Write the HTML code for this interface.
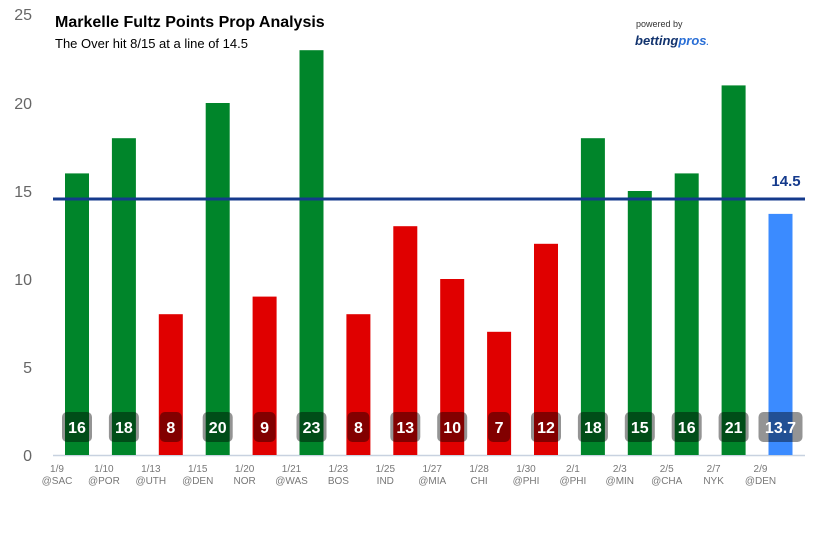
<!DOCTYPE html><html><head><style>body{margin:0;background:#fff}svg{display:block}</style></head><body>
<svg width="818" height="545" xmlns="http://www.w3.org/2000/svg" font-family="Liberation Sans, sans-serif">
<g fill="#666" font-size="16" text-anchor="end">
<text x="32" y="20">25</text><text x="32" y="109">20</text><text x="32" y="197">15</text><text x="32" y="285">10</text><text x="32" y="373">5</text><text x="32" y="461">0</text></g>
<line x1="53" y1="455.5" x2="805" y2="455.5" stroke="#c8d2e0" stroke-width="1.5"/>
<text x="55" y="27" font-size="16" font-weight="bold" fill="#000">Markelle Fultz Points Prop Analysis</text>
<text x="55" y="48" font-size="13" fill="#000">The Over hit 8/15 at a line of 14.5</text>
<text x="636" y="27" font-size="9" fill="#333">powered by</text>
<text x="635" y="45" font-size="13" font-weight="bold" font-style="italic" fill="#12336e">betting<tspan fill="#2a6fd6">pros</tspan><tspan fill="#2a6fd6" font-size="8">.</tspan></text>
<g id="bars"></g>
<line x1="53" y1="199" x2="805" y2="199" stroke="#143a8c" stroke-width="3"/>
<text x="786" y="186" font-size="15" font-weight="bold" fill="#143a8c" text-anchor="middle">14.5</text>
<g id="labels"></g>
</svg>
<script>
var v=[16,18,8,20,9,23,8,13,10,7,12,18,15,16,21,13.7];
var d=[["1/9","@SAC"],["1/10","@POR"],["1/13","@UTH"],["1/15","@DEN"],["1/20","NOR"],["1/21","@WAS"],["1/23","BOS"],["1/25","IND"],["1/27","@MIA"],["1/28","CHI"],["1/30","@PHI"],["2/1","@PHI"],["2/3","@MIN"],["2/5","@CHA"],["2/7","NYK"],["2/9","@DEN"]];
var ns="http://www.w3.org/2000/svg",B=document.getElementById("bars"),L=document.getElementById("labels");
function el(p,t,a,txt){var e=document.createElementNS(ns,t);for(var k in a)e.setAttribute(k,a[k]);if(txt)e.textContent=txt;p.appendChild(e);return e;}
v.forEach(function(x,i){var l=65+46.9*i,c=l+12,h=x*17.6;
var col=i==15?"#3b8bff":(x>14.5?"#00852a":"#e00000");
el(B,"rect",{x:l,y:455-h,width:24,height:h,fill:col});
var s=String(x),w=s.length>=3?44:(s.length==2?30:22);
el(L,"rect",{x:c-w/2,y:412,width:w,height:30,rx:5,fill:"rgba(0,0,0,0.42)"});
el(L,"text",{x:c,y:433,"font-size":16,"font-weight":"bold",fill:"#fff","text-anchor":"middle"},s);
var lx=c-20;
el(L,"text",{x:lx,y:472,"font-size":10,fill:"#777","text-anchor":"middle"},d[i][0]);
el(L,"text",{x:lx,y:484,"font-size":10,fill:"#777","text-anchor":"middle"},d[i][1]);
});
</script>
</body></html>
